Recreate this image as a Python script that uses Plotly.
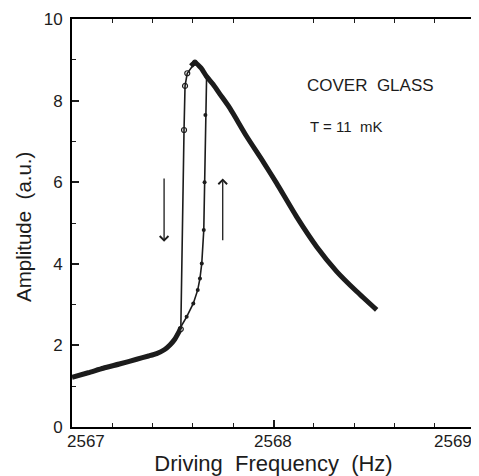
import plotly.graph_objects as go

# Lower (shared) branch
lower_f = [2567.00, 2567.08, 2567.155, 2567.24, 2567.321, 2567.38, 2567.42, 2567.46, 2567.486, 2567.51, 2567.536]
lower_a = [1.22, 1.33, 1.44, 1.55, 1.66, 1.74, 1.80, 1.90, 2.01, 2.15, 2.38]

# Upper (shared) branch
upper_f = [2567.59, 2567.61, 2567.64, 2567.668, 2567.70, 2567.734, 2567.784, 2567.867, 2567.949,
           2568.016, 2568.115, 2568.214, 2568.314, 2568.413, 2568.512]
upper_a = [8.85, 8.93, 8.80, 8.59, 8.40, 8.16, 7.81, 7.12, 6.50,
           5.97, 5.15, 4.42, 3.81, 3.32, 2.87]

# Up-sweep jump (filled dots)
up_f = [2567.536, 2567.569, 2567.602, 2567.624, 2567.635, 2567.644, 2567.654, 2567.658, 2567.662, 2567.668]
up_a = [2.42, 2.70, 3.03, 3.36, 3.64, 4.01, 4.83, 6.00, 7.65, 8.59]

# Down-sweep jump (open circles)
down_f = [2567.61, 2567.572, 2567.561, 2567.556, 2567.540]
down_a = [8.93, 8.67, 8.36, 7.28, 2.40]

# Arrows: (x, y_tail, y_head)
arrow_x = [2567.457, 2567.748]
arrow_tail = [6.13, 4.54]
arrow_head = [4.54, 6.09]

xtick_vals = [2567, 2568, 2569]
xtick_text = ["2567", "2568", "2569"]
ytick_vals = [0, 2, 4, 6, 8, 10]
ytick_text = ["0", "2", "4", "6", "8", "10"]
xminor_vals = [2567.2, 2567.4, 2567.6, 2567.8, 2568.2, 2568.4, 2568.6, 2568.8]
yminor_vals = [1, 3, 5, 7, 9]

ink = "#1c1c1c"
font = "Liberation Sans, Arial, sans-serif"

fig = go.Figure()
fig.add_trace(go.Scatter(x=lower_f, y=lower_a, mode="lines",
                         line=dict(color=ink, width=5, shape="spline", smoothing=0.6), showlegend=False))
fig.add_trace(go.Scatter(x=upper_f, y=upper_a, mode="lines",
                         line=dict(color=ink, width=5, shape="spline", smoothing=0.6), showlegend=False))
fig.add_trace(go.Scatter(x=up_f, y=up_a, mode="lines+markers",
                         line=dict(color=ink, width=1.6),
                         marker=dict(symbol="circle", size=4, color=ink), showlegend=False))
fig.add_trace(go.Scatter(x=down_f, y=down_a, mode="lines+markers",
                         line=dict(color=ink, width=1.6),
                         marker=dict(symbol="circle-open", size=5, color=ink, line=dict(width=1.2)),
                         showlegend=False))

for xa, yt, yh in zip(arrow_x, arrow_tail, arrow_head):
    fig.add_annotation(x=xa, y=yh, ax=xa, ay=yt, xref="x", yref="y", axref="x", ayref="y",
                       text="", showarrow=True, arrowhead=4, arrowsize=1.3, arrowwidth=1.3,
                       arrowcolor=ink)

fig.add_annotation(x=2568.156, y=8.36, xref="x", yref="y", text="COVER  GLASS", showarrow=False,
                   xanchor="left", yanchor="middle", font=dict(family=font, size=17, color=ink))
fig.add_annotation(x=2568.171, y=7.36, xref="x", yref="y", text="T = 11  mK", showarrow=False,
                   xanchor="left", yanchor="middle", font=dict(family=font, size=15, color=ink))

anchors = ["left", "center", "right"]
shifts = [-7, -1, -1]
for v, t, an, sh in zip(xtick_vals, xtick_text, anchors, shifts):
    fig.add_annotation(x=v, y=0, xref="x", yref="paper", text=t, showarrow=False,
                       xanchor=an, yanchor="top", xshift=sh, yshift=-3,
                       font=dict(family=font, size=17, color=ink))

fig.add_annotation(x=0, y=0.5, xref="paper", yref="paper", text="Amplitude  (a.u.)",
                   textangle=-90, showarrow=False, xanchor="center", yanchor="middle",
                   xshift=-49, yshift=-4, font=dict(family=font, size=20.5, color=ink))

fig.update_xaxes(range=[2567, 2569], tickvals=xtick_vals, showticklabels=False,
                 ticks="inside", ticklen=7, tickwidth=1.5, tickcolor=ink,
                 showline=True, linecolor="black", linewidth=2, mirror=True,
                 showgrid=False, zeroline=False,
                 title=dict(text="Driving  Frequency  (Hz)", standoff=28,
                            font=dict(family=font, size=22, color=ink)))
fig.update_yaxes(range=[0, 10], tickvals=ytick_vals, ticktext=ytick_text,
                 ticks="inside", ticklen=7, tickwidth=1.5, tickcolor=ink,
                 tickfont=dict(family=font, size=17, color=ink), ticklabelstandoff=4,
                 showline=True, linecolor="black", linewidth=2, mirror=True,
                 showgrid=False, zeroline=False)

fig.update_layout(
    xaxis2=dict(overlaying="x", matches="x", range=[2567, 2569], tickvals=xminor_vals,
                showticklabels=False, ticks="inside", ticklen=4, tickwidth=1.2, tickcolor=ink,
                mirror="ticks", showline=False, showgrid=False, zeroline=False, anchor="y"),
    yaxis2=dict(overlaying="y", range=[0, 10], tickvals=yminor_vals,
                showticklabels=False, ticks="inside", ticklen=4, tickwidth=1.2, tickcolor=ink,
                mirror="ticks", showline=False, showgrid=False, zeroline=False, anchor="x"),
)
fig.add_trace(go.Scatter(x=[], y=[], xaxis="x2", yaxis="y2", showlegend=False))

fig.update_layout(width=471, height=468, margin=dict(l=64, r=4, t=11, b=49, autoexpand=False),
                  paper_bgcolor="white", plot_bgcolor="white",
                  font=dict(family=font, color=ink))

fig.write_html("out.html")
